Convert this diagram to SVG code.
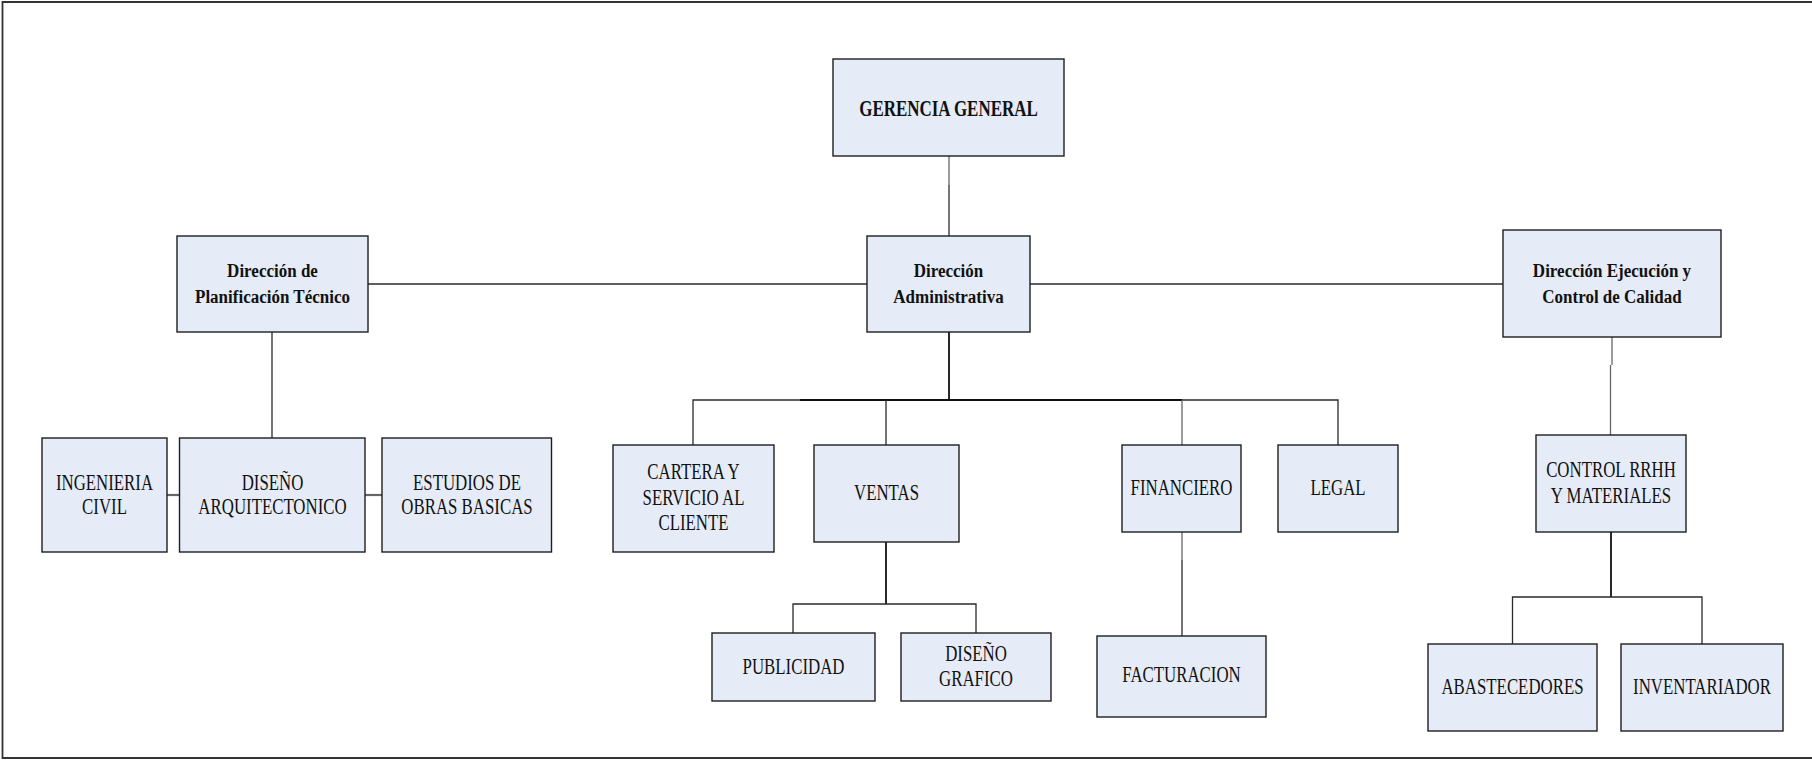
<svg xmlns="http://www.w3.org/2000/svg" width="1812" height="760" viewBox="0 0 1812 760">
  <defs>
    <style>
      .box { fill: #E6ECF7; stroke: #1e1e1e; stroke-width: 1.4; }
      .link { fill: none; stroke: #2a2a2a; stroke-width: 1.3; }
      .link-soft { fill: none; stroke: #666; stroke-width: 1.3; }
      .link-bold { fill: none; stroke: #111; stroke-width: 1.8; }
      .stub { fill: none; stroke: #666; stroke-width: 2.2; }
      .t { font-size: 22.6px; }
      .tg { font-size: 22.6px; font-weight: bold; }
      .th { font-size: 19.7px; font-weight: bold; }
    </style>
  </defs>

  <rect width="1812" height="760" fill="#ffffff"/>
  <!-- page frame (open on the right) -->
  <path d="M1812,2 H2.5 V758 H1812" fill="none" stroke="#333" stroke-width="1.8"/>

  <!-- connectors -->
  <g id="connectors">
    <path class="link-soft" d="M949,156 V185"/>
    <path class="link" d="M949,185 V236"/>
    <path class="link" d="M368,284 H867"/>
    <path class="link" d="M1030,284 H1503"/>
    <path class="link" d="M272,332 V438"/>
    <path class="stub" d="M167,495 H179.5"/>
    <path class="stub" d="M365,495 H382"/>
    <path class="link-bold" d="M949,332 V400"/>
    <path class="link" d="M693,445 V400 H1338 V445"/>
    <path class="link-bold" d="M800,400 H1182"/>
    <path class="link" d="M886,400 V445"/>
    <path class="link-soft" d="M1182,400 V445"/>
    <path class="link-bold" d="M886,542 V604"/>
    <path class="link" d="M793,633 V604 H976 V633"/>
    <path class="link-soft" d="M1182,532 V560"/>
    <path class="link" d="M1182,560 V636"/>
    <path class="link-soft" d="M1612,337 V365"/>
    <path class="link-soft" d="M1610.5,365 V435"/>
    <path class="link-bold" d="M1611,532 V597"/>
    <path class="link" d="M1512.5,644 V597 H1702 V644"/>
  </g>

  <g font-family="'Liberation Serif', 'DejaVu Serif', 'Times New Roman', serif" fill="#111" text-anchor="middle">
    <!-- level 0 -->
    <g id="gerencia-general">
      <rect class="box" x="833" y="59" width="231" height="97"/>
      <text class="tg" transform="matrix(0.751 0 0 1 948.5 0)" y="116">GERENCIA GENERAL</text>
    </g>

    <!-- level 1 -->
    <g id="dir-planificacion">
      <rect class="box" x="177" y="236" width="191" height="96"/>
      <text class="th" transform="matrix(0.863 0 0 1 272.5 0)"><tspan x="0" y="277.5">Dirección de</tspan><tspan x="0" y="303">Planificación Técnico</tspan></text>
    </g>
    <g id="dir-administrativa">
      <rect class="box" x="867" y="236" width="163" height="96"/>
      <text class="th" transform="matrix(0.863 0 0 1 948.5 0)"><tspan x="0" y="277.5">Dirección</tspan><tspan x="0" y="303.5">Administrativa</tspan></text>
    </g>
    <g id="dir-ejecucion">
      <rect class="box" x="1503" y="230" width="218" height="107"/>
      <text class="th" transform="matrix(0.863 0 0 1 1612 0)"><tspan x="0" y="277.5">Dirección Ejecución y</tspan><tspan x="0" y="303.5">Control de Calidad</tspan></text>
    </g>

    <!-- planning area -->
    <g id="ingenieria-civil">
      <rect class="box" x="42" y="438" width="125" height="114"/>
      <text class="t" transform="matrix(0.745 0 0 1 104.5 0)"><tspan x="0" y="490">INGENIERIA</tspan><tspan x="0" y="514.5">CIVIL</tspan></text>
    </g>
    <g id="diseno-arquitectonico">
      <rect class="box" x="179.5" y="438" width="185.5" height="114"/>
      <text class="t" transform="matrix(0.745 0 0 1 272.5 0)"><tspan x="0" y="490">DISEÑO</tspan><tspan x="0" y="514.5">ARQUITECTONICO</tspan></text>
    </g>
    <g id="estudios-obras">
      <rect class="box" x="382" y="438" width="169.5" height="114"/>
      <text class="t" transform="matrix(0.745 0 0 1 467 0)"><tspan x="0" y="490">ESTUDIOS DE</tspan><tspan x="0" y="514.5">OBRAS BASICAS</tspan></text>
    </g>

    <!-- administrative area -->
    <g id="cartera">
      <rect class="box" x="613" y="445" width="161" height="107"/>
      <text class="t" transform="matrix(0.745 0 0 1 693.5 0)"><tspan x="0" y="479.5">CARTERA Y</tspan><tspan x="0" y="505">SERVICIO AL</tspan><tspan x="0" y="530.5">CLIENTE</tspan></text>
    </g>
    <g id="ventas">
      <rect class="box" x="814" y="445" width="145" height="97"/>
      <text class="t" transform="matrix(0.745 0 0 1 886.5 0)" y="500.5">VENTAS</text>
    </g>
    <g id="financiero">
      <rect class="box" x="1122" y="445" width="119" height="87"/>
      <text class="t" transform="matrix(0.745 0 0 1 1181.5 0)" y="495">FINANCIERO</text>
    </g>
    <g id="legal">
      <rect class="box" x="1278" y="445" width="120" height="87"/>
      <text class="t" transform="matrix(0.745 0 0 1 1338 0)" y="495">LEGAL</text>
    </g>
    <g id="publicidad">
      <rect class="box" x="712" y="633" width="163" height="68"/>
      <text class="t" transform="matrix(0.745 0 0 1 793.5 0)" y="674.5">PUBLICIDAD</text>
    </g>
    <g id="diseno-grafico">
      <rect class="box" x="901" y="633" width="150" height="68"/>
      <text class="t" transform="matrix(0.745 0 0 1 976 0)"><tspan x="0" y="661">DISEÑO</tspan><tspan x="0" y="686.5">GRAFICO</tspan></text>
    </g>
    <g id="facturacion">
      <rect class="box" x="1097" y="636" width="169" height="81"/>
      <text class="t" transform="matrix(0.745 0 0 1 1181.5 0)" y="682.5">FACTURACION</text>
    </g>

    <!-- execution area -->
    <g id="control-rrhh">
      <rect class="box" x="1536" y="435" width="150" height="97"/>
      <text class="t" transform="matrix(0.745 0 0 1 1611 0)"><tspan x="0" y="477">CONTROL RRHH</tspan><tspan x="0" y="503">Y MATERIALES</tspan></text>
    </g>
    <g id="abastecedores">
      <rect class="box" x="1428" y="644" width="169" height="87"/>
      <text class="t" transform="matrix(0.745 0 0 1 1512.5 0)" y="694">ABASTECEDORES</text>
    </g>
    <g id="inventariador">
      <rect class="box" x="1621" y="644" width="162" height="87"/>
      <text class="t" transform="matrix(0.745 0 0 1 1702 0)" y="694">INVENTARIADOR</text>
    </g>
  </g>
</svg>
